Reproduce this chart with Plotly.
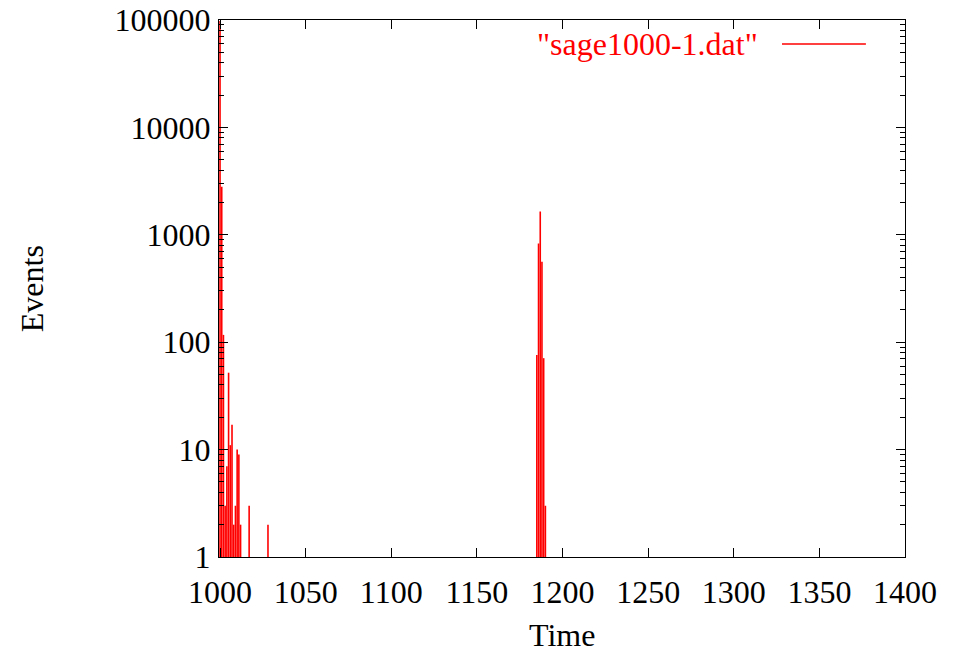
import plotly.graph_objects as go

# Event counts per time step (impulse plot, log scale)
times = [1000, 1001, 1002, 1003, 1004, 1005, 1006, 1007, 1008, 1009, 1010, 1011, 1012, 1017, 1028,
         1185, 1186, 1187, 1188, 1189, 1190]
events = [98000, 2800, 117, 3, 7, 52, 11, 17, 2, 3, 10, 9, 2, 3, 2,
          76, 830, 1650, 560, 71, 3]

series_name = '"sage1000-1.dat"'
x_ticks = [1000, 1050, 1100, 1150, 1200, 1250, 1300, 1350, 1400]
y_ticks = [1, 10, 100, 1000, 10000, 100000]
y_tick_text = ["1", "10", "100", "1000", "10000", "100000"]
y_minor = [m * 10 ** e for e in range(0, 5) for m in range(2, 10)]

FONT = "Liberation Serif"
FS = 32
RED = "#ff0000"

# impulses: vertical segments from the baseline (1) up to each count
ix, iy = [], []
for t, v in zip(times, events):
    ix += [t, t, None]
    iy += [1, v, None]

fig = go.Figure()
fig.add_trace(go.Scatter(
    x=ix, y=iy, mode="lines", name=series_name,
    line=dict(color=RED, width=1.6), showlegend=False, hoverinfo="skip",
))

axis_common = dict(
    showline=True, linecolor="black", linewidth=1.2, mirror="allticks",
    ticks="inside", ticklen=9, tickwidth=1, tickcolor="black",
    showgrid=False, zeroline=False, automargin=False,
    tickfont=dict(family=FONT, size=FS, color="black"),
)

# the x range starts a hair before 1000 so the first impulse sits just inside the frame
fig.update_xaxes(
    range=[999.4, 1400], tickvals=x_ticks, ticktext=[str(v) for v in x_ticks],
    ticklabelstandoff=6,
    **axis_common,
)
fig.update_yaxes(
    type="log", range=[0, 5], tickvals=y_ticks, ticktext=y_tick_text,
    ticklabelstandoff=1,
    minor=dict(ticks="inside", ticklen=5, tickwidth=1, tickcolor="black",
               tickvals=y_minor, showgrid=False),
    **axis_common,
)

# legend entry: label on the left, line sample on the right
fig.add_annotation(
    x=0.7886, y=0.955, xref="paper", yref="paper", xanchor="right", yanchor="middle",
    text=series_name, showarrow=False, font=dict(family=FONT, size=FS, color=RED),
)
fig.add_shape(
    type="line", xref="paper", yref="paper", x0=0.8207, x1=0.943, y0=0.9553, y1=0.9553,
    line=dict(color=RED, width=1.5),
)

# axis titles
fig.add_annotation(
    x=0.5, y=-0.145, xref="paper", yref="paper", xanchor="center", yanchor="middle",
    text="Time", showarrow=False, font=dict(family=FONT, size=FS, color="black"),
)
fig.add_annotation(
    x=-0.273, y=0.5, xref="paper", yref="paper", xanchor="center", yanchor="middle",
    text="Events", textangle=-90, showarrow=False,
    font=dict(family=FONT, size=FS, color="black"),
)

fig.update_layout(
    width=962, height=652,
    margin=dict(l=219, r=57, t=20, b=95),
    paper_bgcolor="white", plot_bgcolor="white",
)

fig.write_html("out.html")
